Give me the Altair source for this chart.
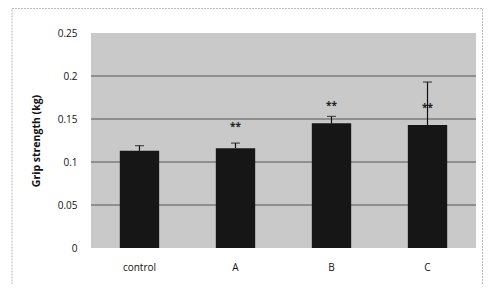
import altair as alt
import pandas as pd

groups = ["control", "A", "B", "C"]
means = [0.113, 0.116, 0.145, 0.143]
errors = [0.006, 0.006, 0.008, 0.050]
stars = ["", "**", "**", "**"]
star_pos = [0.0, 0.141, 0.165, 0.163]
y_ticks = [0, 0.05, 0.1, 0.15, 0.2, 0.25]

df = pd.DataFrame({
    "group": groups,
    "mean": means,
    "upper": [m + e for m, e in zip(means, errors)],
    "star": stars,
    "star_y": star_pos,
})

W, H = 385, 215

x = alt.X("group:N", sort=groups, title=None,
          scale=alt.Scale(paddingInner=0.59, paddingOuter=0.3),
          axis=alt.Axis(labelAngle=0, labelFont="Open Sans", labelFontSize=10,
                        labelColor="#111", ticks=False, domain=False, labelPadding=14))
y_scale = alt.Scale(domain=[0, 0.25], nice=False)

base = alt.Chart(df)

frame = alt.Chart(pd.DataFrame({"a": [0]})).mark_rect(
    fill=None, stroke="#bbbbbb", strokeWidth=1, strokeDash=[2, 1]
).encode(x=alt.value(-79), x2=alt.value(391.5), y=alt.value(-24.5), y2=alt.value(300))

bg = alt.Chart(pd.DataFrame({"a": [0]})).mark_rect(fill="#c9c9c9").encode(
    x=alt.value(0), x2=alt.value(W), y=alt.value(0), y2=alt.value(H))

grid = alt.Chart(pd.DataFrame({"v": y_ticks[1:-1]})).mark_rule(
    color="#555555", strokeWidth=1
).encode(y=alt.Y("v:Q", scale=y_scale))

bars = base.mark_bar(color="#161616").encode(
    x=x,
    y=alt.Y("mean:Q", scale=y_scale, title="Grip strength (kg)",
            axis=alt.Axis(values=y_ticks, grid=False, ticks=False, domain=False,
                          labelFont="Open Sans", labelFontSize=10, labelColor="#111",
                          labelPadding=14, titleFont="Open Sans", titleFontSize=10.5,
                          titleFontWeight="bold", titleColor="#111", titlePadding=16,
                          labelExpr="datum.value == 0 ? '0' : format(datum.value, '.2~f')")),
)

err = base.mark_rule(color="#111111", strokeWidth=1.2).encode(
    x=x, y=alt.Y("mean:Q", scale=y_scale), y2="upper:Q")
cap = base.mark_tick(color="#111111", thickness=1.2, size=9).encode(
    x=x, y=alt.Y("upper:Q", scale=y_scale))

txt = base.mark_text(fontSize=10, fontWeight="bold", color="#222", font="Open Sans").encode(
    x=x, y=alt.Y("star_y:Q", scale=y_scale), text="star:N")

chart = alt.layer(frame, bg, grid, bars, err, cap, txt).properties(
    width=W, height=H,
    autosize=alt.AutoSizeParams(type="none"),
    padding={"left": 83, "top": 25, "right": 8, "bottom": 36},
    background="white",
).configure_view(stroke=None)

chart.save("out.html", embed_options={"renderer": "svg", "actions": False})
